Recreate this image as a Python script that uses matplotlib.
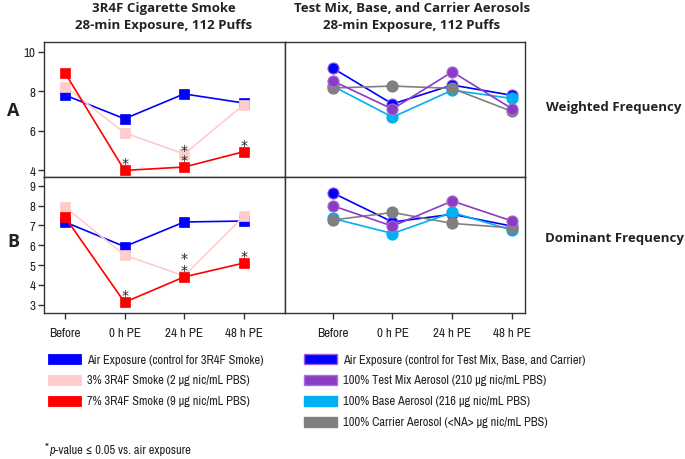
import matplotlib
matplotlib.use("Agg")
import matplotlib.pyplot as plt
from matplotlib.patches import Rectangle
from matplotlib import font_manager

# ---------------- data ----------------
timepoints = ["Before", "0 h PE", "24 h PE", "48 h PE"]

smoke_labels = ["Air Exposure (control for 3R4F Smoke)",
                "3% 3R4F Smoke (2 µg nic/mL PBS)",
                "7% 3R4F Smoke (9 µg nic/mL PBS)"]
smoke_colors = ["#0000ff", "#ffcccc", "#ff0000"]

# Weighted frequency (panel A)
smoke_weighted_air = [7.80, 6.60, 7.86, 7.40]
smoke_weighted_3 = [8.23, 5.89, 4.81, 7.31]
smoke_weighted_7 = [8.93, 3.98, 4.15, 4.93]
# Dominant frequency (panel B)
smoke_dominant_air = [7.17, 5.93, 7.17, 7.22]
smoke_dominant_3 = [7.92, 5.50, 4.45, 7.45]
smoke_dominant_7 = [7.42, 3.12, 4.40, 5.10]

# significance flags (p <= 0.05 vs air)
sig_weighted_3 = [False, False, True, False]
sig_weighted_7 = [False, True, True, True]
sig_dominant_3 = [False, False, True, False]
sig_dominant_7 = [False, True, True, True]

aero_labels = ["Air Exposure (control for Test Mix, Base, and Carrier)",
               "100% Test Mix Aerosol (210 µg nic/mL PBS)",
               "100% Base Aerosol (216 µg nic/mL PBS)",
               "100% Carrier Aerosol (<NA> µg nic/mL PBS)"]
aero_colors = ["#0000ff", "#8a3cc4", "#00b0f0", "#808080"]
aero_edges = ["#a060e0", "#a870d8", "#00b0f0", "#808080"]

aero_weighted_air = [9.17, 7.35, 8.31, 7.79]
aero_weighted_mix = [8.52, 7.09, 8.98, 7.11]
aero_weighted_base = [8.26, 6.68, 8.05, 7.63]
aero_weighted_carrier = [8.16, 8.26, 8.14, 6.97]

aero_dominant_air = [8.64, 7.17, 7.56, 6.96]
aero_dominant_mix = [7.99, 6.96, 8.23, 7.22]
aero_dominant_base = [7.35, 6.59, 7.65, 6.76]
aero_dominant_carrier = [7.27, 7.65, 7.10, 6.87]

row_labels = ["A", "B"]
row_titles = ["Weighted Frequency", "Dominant Frequency"]
col_titles = ["3R4F Cigarette Smoke\n28-min Exposure, 112 Puffs",
              "Test Mix, Base, and Carrier Aerosols\n28-min Exposure, 112 Puffs"]
footnote_star = "*"
footnote_p = "p"
footnote_rest = "-value ≤ 0.05 vs. air exposure"

# ---------------- fonts ----------------
narrow = None
for f in font_manager.fontManager.ttflist:
    if any(k in f.name for k in ("Narrow", "Condensed")) and "Mono" not in f.name \
            and "Serif" not in f.name:
        narrow = f.name
        break
NARROW = [narrow, 'DejaVu Sans'] if narrow else ['Liberation Sans', 'DejaVu Sans']
BOLD = ['Open Sans', 'DejaVu Sans']
plt.rcParams['font.family'] = NARROW

# ---------------- figure ----------------
W, H = 685, 460
fig = plt.figure(figsize=(W / 100, H / 100), dpi=100)
renderer = fig.canvas.get_renderer()


def text_width(s, size, family, **kw):
    t = fig.text(0, 0, s, fontsize=size, family=family, **kw)
    w = t.get_window_extent(renderer).width
    t.remove()
    return w


# narrow font size fitted so the first legend label spans ~175 px
ns = 10 * 176 / text_width(smoke_labels[0], 10, NARROW)
ns = min(ns, 10.5)


def fx(px):
    return px / W


def fy(py):
    return 1 - py / H


ax_tl = fig.add_axes([fx(44), fy(178), fx(285) - fx(44), fy(42.5) - fy(178)])
ax_tr = fig.add_axes([fx(285), fy(178), fx(525) - fx(285), fy(42.5) - fy(178)])
ax_bl = fig.add_axes([fx(44), fy(314), fx(285) - fx(44), fy(178) - fy(314)])
ax_br = fig.add_axes([fx(285), fy(314), fx(525) - fx(285), fy(178) - fy(314)])

x = list(range(len(timepoints)))
frame_col = "#333333"

for ax in (ax_tl, ax_tr, ax_bl, ax_br):
    for s in ax.spines.values():
        s.set_color(frame_col)
        s.set_linewidth(1.0)
    ax.tick_params(colors=frame_col, labelcolor="#222222", length=4, width=1,
                   labelsize=ns * 1.05)

for ax in (ax_tl, ax_bl):
    ax.set_xlim(-0.352, 3.693)
for ax in (ax_tr, ax_br):
    ax.set_xlim(-0.798, 3.217)
for ax in (ax_tl, ax_tr):
    ax.set_ylim(3.645, 10.52)
for ax in (ax_bl, ax_br):
    ax.set_ylim(2.58, 9.44)

ax_tl.set_yticks([4, 6, 8, 10])
ax_bl.set_yticks([3, 4, 5, 6, 7, 8, 9])
for ax in (ax_tr, ax_br):
    ax.set_yticks([])
for ax in (ax_tl, ax_tr):
    ax.set_xticks([])
for ax in (ax_bl, ax_br):
    ax.set_xticks(x)
    ax.set_xticklabels(timepoints)
    ax.tick_params(axis='x', pad=6)
for ax in (ax_tl, ax_bl):
    ax.tick_params(axis='y', pad=2)


def plot_smoke(ax, series, sigs, star_offsets):
    for vals, col in zip(series, smoke_colors):
        ax.plot(x, vals, color=col, lw=1.2, marker='s', ms=7.5,
                mfc=col, mec=col, mew=0.5, zorder=3)
    for vals, sig, offs in zip(series[1:], sigs, star_offsets):
        for xi, v, s, o in zip(x, vals, sig, offs):
            if s:
                ax.annotate("*", (xi, v), xytext=(0, o), textcoords='offset points',
                            ha='center', va='center', fontsize=10,
                            family=['DejaVu Sans'], color="#222222", zorder=5)


def plot_aero(ax, series):
    order = [0, 2, 3, 1]
    for i in order:
        ax.plot(x, series[i], color=aero_colors[i], lw=1.2, marker='o', ms=8,
                mfc=aero_colors[i], mec=aero_edges[i], mew=0.8, zorder=3)


plot_smoke(ax_tl, [smoke_weighted_air, smoke_weighted_3, smoke_weighted_7],
           [sig_weighted_3, sig_weighted_7],
           [[4, 4, 3, 4], [5, 5, 5, 5]])
plot_smoke(ax_bl, [smoke_dominant_air, smoke_dominant_3, smoke_dominant_7],
           [sig_dominant_3, sig_dominant_7],
           [[4, 4, 13, 4], [5, 5, 5, 5]])
plot_aero(ax_tr, [aero_weighted_air, aero_weighted_mix, aero_weighted_base,
                  aero_weighted_carrier])
plot_aero(ax_br, [aero_dominant_air, aero_dominant_mix, aero_dominant_base,
                  aero_dominant_carrier])

# column titles
fig.text(fx(164), fy(17), col_titles[0], ha='center', va='center',
         family=BOLD, fontweight='bold', fontsize=9.5, color="#222222",
         linespacing=1.35)
fig.text(fx(412), fy(17), col_titles[1], ha='center', va='center',
         family=BOLD, fontweight='bold', fontsize=9.5, color="#222222",
         linespacing=1.35)

# row labels
fig.text(fx(13), fy(111), row_labels[0], ha='center', va='center',
         family=BOLD, fontweight='bold', fontsize=13, color="#222222")
fig.text(fx(13), fy(242), row_labels[1], ha='center', va='center',
         family=BOLD, fontweight='bold', fontsize=13, color="#222222")
fig.text(fx(614), fy(108), row_titles[0], ha='center', va='center',
         family=BOLD, fontweight='bold', fontsize=9.5, color="#222222")
fig.text(fx(614), fy(239), row_titles[1], ha='center', va='center',
         family=BOLD, fontweight='bold', fontsize=9.5, color="#222222")

# legends
row_y = [360, 381, 402, 423]
for lab, col, yy in zip(smoke_labels, smoke_colors, row_y):
    fig.add_artist(Rectangle((fx(48), fy(yy + 5)), fx(81) - fx(48), fy(yy - 5) - fy(yy + 5),
                             transform=fig.transFigure, facecolor=col,
                             edgecolor=col, lw=0.6))
    fig.text(fx(87), fy(yy), lab, ha='left', va='center', fontsize=ns,
             color="#222222")
for lab, col, ec, yy in zip(aero_labels, aero_colors, aero_edges, row_y):
    fig.add_artist(Rectangle((fx(304), fy(yy + 5)), fx(337) - fx(304), fy(yy - 5) - fy(yy + 5),
                             transform=fig.transFigure, facecolor=col,
                             edgecolor=ec, lw=1.0))
    fig.text(fx(343), fy(yy), lab, ha='left', va='center', fontsize=ns,
             color="#222222")

# footnote: "*" + italic "p" + rest
x0 = 45
t1 = fig.text(fx(x0), fy(449), footnote_star, ha='left', va='center',
              fontsize=ns, color="#222222")
x0 += t1.get_window_extent(renderer).width
t2 = fig.text(fx(x0), fy(451), footnote_p, ha='left', va='center',
              fontsize=ns, style='italic', color="#222222")
x0 += t2.get_window_extent(renderer).width
fig.text(fx(x0), fy(451), footnote_rest, ha='left', va='center',
         fontsize=ns, color="#222222")

fig.savefig("out.png", dpi=100)
